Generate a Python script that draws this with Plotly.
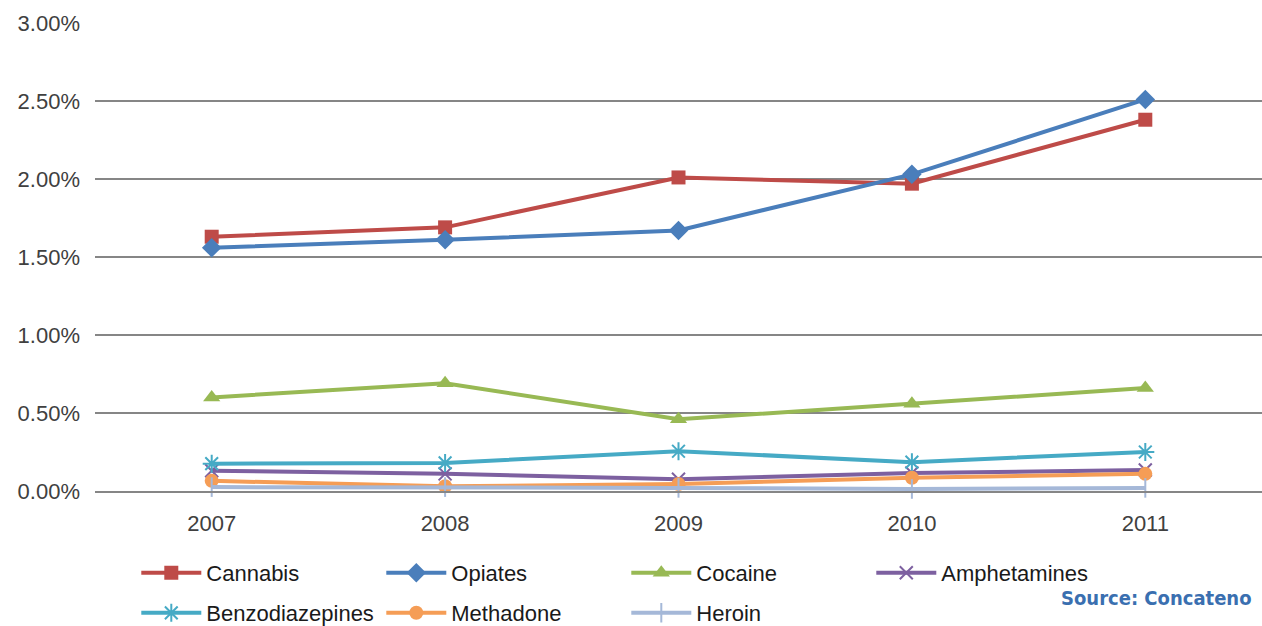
import plotly.graph_objects as go

years = ["2007", "2008", "2009", "2010", "2011"]
cannabis = [1.63, 1.69, 2.01, 1.97, 2.38]
opiates = [1.56, 1.61, 1.67, 2.03, 2.51]
cocaine = [0.60, 0.69, 0.46, 0.56, 0.66]
amphetamines = [0.13, 0.11, 0.075, 0.115, 0.135]
benzodiazepines = [0.175, 0.18, 0.255, 0.185, 0.25]
methadone = [0.065, 0.03, 0.045, 0.085, 0.11]
heroin = [0.025, 0.025, 0.02, 0.013, 0.02]

series = [
    ("Cannabis", cannabis, "#BE4B48", "square", 14, "legend"),
    ("Opiates", opiates, "#4A7EBB", "diamond", 15, "legend"),
    ("Cocaine", cocaine, "#98B954", "triangle-up", 15, "legend"),
    ("Amphetamines", amphetamines, "#7D60A0", "x-thin-open", 13, "legend"),
    ("Benzodiazepines", benzodiazepines, "#46AAC5", "asterisk-open", 15, "legend2"),
    ("Methadone", methadone, "#F59D56", "circle", 14, "legend2"),
    ("Heroin", heroin, "#A5B8D8", "line-ns-open", 14, "legend2"),
]

fig = go.Figure()
for name, vals, col, sym, sz, leg in series:
    marker = dict(symbol=sym, size=sz, color=col)
    if sym.endswith("-open"):
        marker["line"] = dict(color=col, width=2)
    fig.add_trace(go.Scatter(
        x=years, y=[v / 100 for v in vals], name=name, mode="lines+markers",
        line=dict(color=col, width=4), marker=marker, cliponaxis=False,
        legend=leg,
    ))

legfont = dict(family="Liberation Sans, Arial, sans-serif", size=22, color="#1a1a1a")
common_leg = dict(orientation="h", xref="container", yref="container",
                  xanchor="left", yanchor="middle",
                  entrywidth=170, entrywidthmode="pixels", font=legfont,
                  bgcolor="rgba(0,0,0,0)", itemwidth=60, tracegroupgap=0)
fig.update_layout(
    width=1262, height=626,
    margin=dict(l=95, r=0, t=23, b=135),
    paper_bgcolor="white", plot_bgcolor="white",
    font=dict(family="Liberation Sans, Arial, sans-serif", size=22, color="#404040"),
    xaxis=dict(type="category", range=[-0.5, 4.5], showgrid=False, showline=True,
               linecolor="#868686", linewidth=1.5, ticks="", ticklabelstandoff=12,
               tickfont=dict(size=22, color="#404040")),
    yaxis=dict(range=[0, 0.03], tickvals=[0, 0.005, 0.01, 0.015, 0.02, 0.025, 0.03],
               tickformat=".2%", showgrid=True, gridcolor="#868686", gridwidth=1.5,
               zeroline=False, showline=False, ticklabelstandoff=14,
               tickfont=dict(size=22, color="#404040")),
    legend=dict(x=0.108, y=1 - 573 / 626, **common_leg),
    legend2=dict(x=0.108, y=1 - 613 / 626, **common_leg),
    annotations=[dict(text="<b>Source: Concateno</b>", xref="paper", yref="paper",
                      x=1, xanchor="right", y=-(598 - 491) / 468, yanchor="middle",
                      showarrow=False, xshift=-8,
                      font=dict(family="DejaVu Sans Condensed, DejaVu Sans", size=20,
                                color="#3A6FB0"))],
)

fig.write_html("out.html")
